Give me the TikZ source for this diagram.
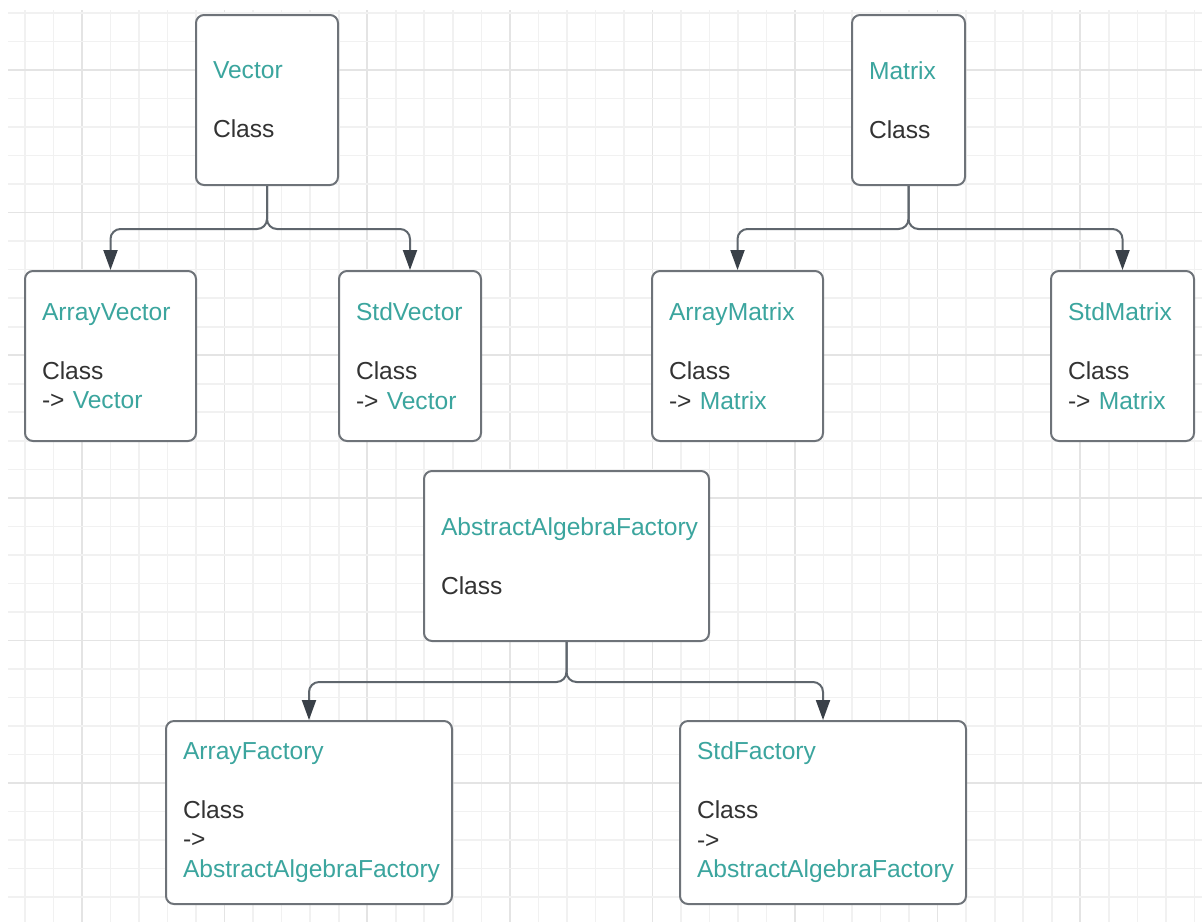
\documentclass[tikz,border=0pt]{standalone}
\usepackage{fontspec}
\setmainfont{Liberation Sans}
\usetikzlibrary{arrows.meta}
\definecolor{teal1}{HTML}{3BA59E}
\definecolor{txt}{HTML}{333333}
\definecolor{boxline}{HTML}{6E7379}
\definecolor{conline}{HTML}{5F666D}
\definecolor{arrowdark}{HTML}{394048}
\definecolor{gthin}{HTML}{F1F1F1}
\definecolor{gthick}{HTML}{E4E4E4}
\newcommand\ttl[1]{\textcolor{teal1}{#1}}
\begin{document}
\begin{tikzpicture}[x=0.5pt,y=-0.5pt,
  umlbox/.style={draw=boxline, line width=1pt, rounded corners=4pt, fill=white,
    inner xsep=8.5pt, inner ysep=0pt, align=left, text=txt,
    font=\fontsize{12.3pt}{14.75pt}\selectfont, minimum height=85pt},
  conn/.style={draw=conline, line width=1pt, rounded corners=5pt,
    -{Triangle[length=10pt,width=7pt,color=arrowdark]}},
  gridthin/.style={draw=gthin, line width=0.8pt},
  gridthick/.style={draw=gthick, line width=0.8pt}]
\useasboundingbox[fill=white] (0,0) rectangle (1202,922);
% grid
\foreach \k in {0,...,41}{
  \pgfmathtruncatemacro\m{mod(\k+3,5)}
  \ifnum\m=0 \def\gc{gridthick}\else\def\gc{gridthin}\fi
  \draw[\gc] (25+\k*28.52,10) -- (25+\k*28.52,922);
}
\foreach \k in {0,...,31}{
  \pgfmathtruncatemacro\m{mod(\k+3,5)}
  \ifnum\m=0 \def\gc{gridthick}\else\def\gc{gridthin}\fi
  \draw[\gc] (8,13+\k*28.52) -- (1202,13+\k*28.52);
}
% boxes
\node[umlbox, text width=54pt] (vec) at (267,100) {\ttl{Vector}\\[14.75pt]Class};
\node[umlbox, text width=39.5pt] (mat) at (908.5,100) {\ttl{Matrix}\\[14.75pt]Class};
\node[umlbox, text width=68.5pt] (av) at (110.5,356) {\ttl{ArrayVector}\\[14.75pt]Class\\-> \ttl{Vector}};
\node[umlbox, text width=54pt] (sv) at (410,356) {\ttl{StdVector}\\[14.75pt]Class\\-> \ttl{Vector}};
\node[umlbox, text width=68.5pt] (am) at (737.5,356) {\ttl{ArrayMatrix}\\[14.75pt]Class\\-> \ttl{Matrix}};
\node[umlbox, text width=54.5pt] (sm) at (1122.5,356) {\ttl{StdMatrix}\\[14.75pt]Class\\-> \ttl{Matrix}};
\node[umlbox, text width=125.5pt] (aaf) at (566.5,556) {\ttl{AbstractAlgebraFactory}\\[14.75pt]Class};
\node[umlbox, text width=126pt, minimum height=91.5pt] (af) at (309,812.5) {\ttl{ArrayFactory}\\[14.75pt]Class\\->\\\ttl{AbstractAlgebraFactory}};
\node[umlbox, text width=126pt, minimum height=91.5pt] (sf) at (823,812.5) {\ttl{StdFactory}\\[14.75pt]Class\\->\\\ttl{AbstractAlgebraFactory}};
% connectors
\draw[conn] (vec.south) -- ++(0,43) -| (av.north);
\draw[conn] (vec.south) -- ++(0,43) -| (sv.north);
\draw[conn] (mat.south) -- ++(0,43) -| (am.north);
\draw[conn] (mat.south) -- ++(0,43) -| (sm.north);
\draw[conn] (aaf.south) -- ++(0,40) -| (af.north);
\draw[conn] (aaf.south) -- ++(0,40) -| (sf.north);
\end{tikzpicture}
\end{document}
